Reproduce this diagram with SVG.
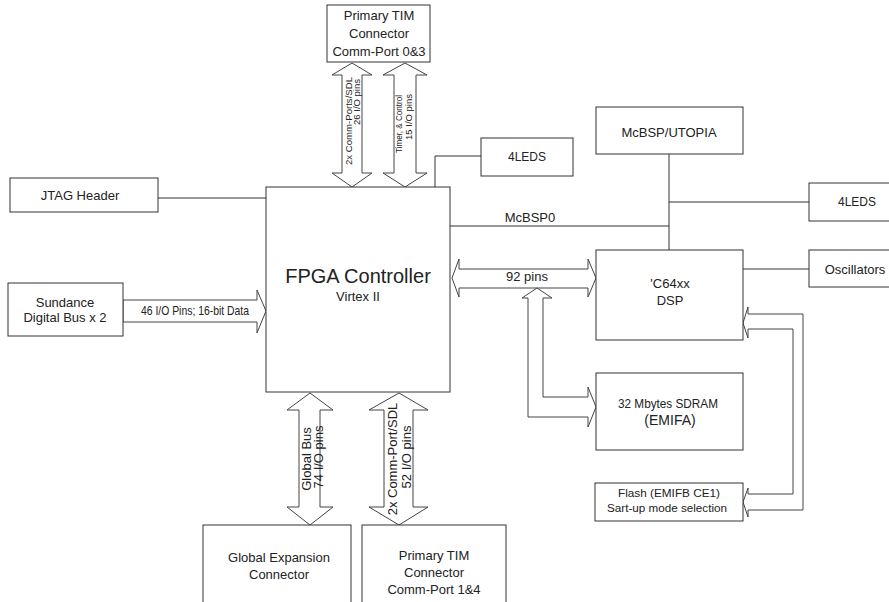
<svg xmlns="http://www.w3.org/2000/svg" width="889" height="602" viewBox="0 0 889 602">
<style>
.box{fill:#fff;stroke:#333;stroke-width:1}
.ln{fill:none;stroke:#333;stroke-width:1}
.ar{fill:#fff;stroke:#444;stroke-width:1}
text{font-family:"Liberation Sans",Arial,sans-serif;fill:#222;font-size:13px;text-anchor:middle}
.sm{font-size:9.5px}
</style>
<rect width="889" height="602" fill="#fff"/>
<g id="connectors">
<polyline class="ln" points="158,198 266,198"/>
<polyline class="ln" points="435,187 435,156 481,156"/>
<polyline class="ln" points="450,226 669,226"/>
<polyline class="ln" points="669,154 669,250"/>
<polyline class="ln" points="669,202 809,202"/>
<polyline class="ln" points="743,269 809,269"/>
<polygon class="ar" points="352,63 372,75 362,75 362,173 372,173 352,187 332,173 342,173 342,75 332,75"/>
<polygon class="ar" points="405,63 427,75 416,75 416,173 427,173 405,187 383,173 394,173 394,75 383,75"/>
<polygon class="ar" points="123,300 257,300 257,290 266,311 257,333 257,322 123,322"/>
<polygon class="ar" points="452,278 459,259 459,269 588,269 588,259 596,278 588,297 588,288 459,288 459,297"/>
<polygon class="ar" points="537,288 552,298 543,298 543,397 588,397 588,387 596,407 588,427 588,417 528,417 528,298 522,298"/>
<polygon class="ar" points="743,323 748,307 748,314 803,314 803,510 748,510 748,517 743,502 748,488 748,494 793,494 793,329 748,329 748,338"/>
<polygon class="ar" points="310,393 333,410 320,410 320,507 333,507 310,525 287,507 299,507 299,410 287,410"/>
<polygon class="ar" points="399,393 428,410 413,410 413,507 428,507 399,525 369,507 384,507 384,410 369,410"/>
<text class="sm" transform="translate(352,121) rotate(-90)" textLength="88" lengthAdjust="spacingAndGlyphs">2x Comm-Ports/SDL</text>
<text class="sm" transform="translate(360,102) rotate(-90)">26 I/O pins</text>
<text class="sm" transform="translate(402,124) rotate(-90)" textLength="58" lengthAdjust="spacingAndGlyphs">Timer, &amp; Control</text>
<text class="sm" transform="translate(412,117) rotate(-90)">15 I/O pins</text>
<text transform="translate(195,315)" textLength="108" lengthAdjust="spacingAndGlyphs">46 I/O Pins; 16-bit Data</text>
<text x="527" y="281">92 pins</text>
<text x="530" y="222">McBSP0</text>
<text transform="translate(311,459) rotate(-90)">Global Bus</text>
<text transform="translate(323,457) rotate(-90)">74 I/O pins</text>
<text transform="translate(397,459) rotate(-90)">2x Comm-Port/SDL</text>
<text transform="translate(411,457) rotate(-90)">52 I/O pins</text>
</g>
<g id="tim-top">
<rect class="box" x="327" y="5" width="103" height="57"/>
<text x="379" y="20">Primary TIM</text>
<text x="379" y="38">Connector</text>
<text x="379" y="56">Comm-Port 0&amp;3</text>
</g>
<g id="jtag">
<rect class="box" x="10" y="178" width="148" height="34"/>
<text x="80" y="200">JTAG Header</text>
</g>
<g id="sundance">
<rect class="box" x="8" y="283" width="115" height="53"/>
<text x="65" y="307">Sundance</text>
<text x="65" y="322">Digital Bus x 2</text>
</g>
<g id="fpga">
<rect class="box" x="266" y="187" width="184" height="205"/>
<text x="358" y="283" style="font-size:20px">FPGA Controller</text>
<text x="358" y="301">Virtex II</text>
</g>
<g id="leds1">
<rect class="box" x="481" y="138" width="92" height="38"/>
<text x="527" y="161" textLength="38" lengthAdjust="spacingAndGlyphs">4LEDS</text>
</g>
<g id="mcbsp">
<rect class="box" x="596" y="107" width="147" height="47"/>
<text x="669" y="137">McBSP/UTOPIA</text>
</g>
<g id="leds2">
<rect class="box" x="809" y="183" width="82" height="38"/>
<text x="857" y="206" textLength="38" lengthAdjust="spacingAndGlyphs">4LEDS</text>
</g>
<g id="dsp">
<rect class="box" x="596" y="250" width="147" height="90"/>
<text x="670" y="288">'C64xx</text>
<text x="670" y="305">DSP</text>
</g>
<g id="osc">
<rect class="box" x="809" y="250" width="82" height="37"/>
<text x="855" y="274">Oscillators</text>
</g>
<g id="sdram">
<rect class="box" x="596" y="373" width="147" height="77"/>
<text x="668" y="408" textLength="100" lengthAdjust="spacingAndGlyphs">32 Mbytes SDRAM</text>
<text x="670" y="425" style="font-size:14px">(EMIFA)</text>
</g>
<g id="flash">
<rect class="box" x="595" y="483" width="148" height="38"/>
<text x="669" y="497" style="font-size:11.7px" textLength="102" lengthAdjust="spacingAndGlyphs">Flash (EMIFB CE1)</text>
<text x="667" y="512" style="font-size:11.7px" textLength="120" lengthAdjust="spacingAndGlyphs">Sart-up mode selection</text>
</g>
<g id="global-exp">
<rect class="box" x="203" y="525" width="148" height="90"/>
<text x="279" y="562">Global Expansion</text>
<text x="279" y="579">Connector</text>
</g>
<g id="tim-bottom">
<rect class="box" x="362" y="525" width="144" height="90"/>
<text x="434" y="560">Primary TIM</text>
<text x="434" y="577">Connector</text>
<text x="434" y="594">Comm-Port 1&amp;4</text>
</g>
</svg>
